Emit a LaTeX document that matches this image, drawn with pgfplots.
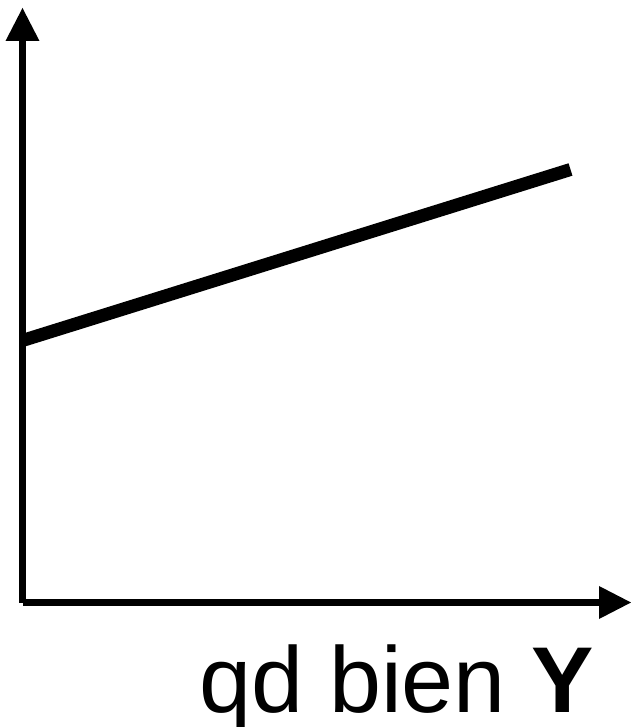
\documentclass[border=0pt]{standalone}
\usepackage{fontspec}
\setmainfont{Liberation Sans}
\usepackage{pgfplots}
\pgfplotsset{compat=1.18}
\usetikzlibrary{arrows.meta}

\begin{document}
\begin{tikzpicture}
\begin{axis}[
  x=1bp, y=1bp,
  xmin=0, xmax=608.5,
  ymin=0, ymax=594.5,
  hide axis,
  clip=false,
]
  % demand for good Y as a straight line
  \addplot[black, line width=13bp, line cap=butt, no marks]
    coordinates {(0,262) (548,433)};

  % axes drawn as thick arrows
  \draw[line width=7bp, line cap=butt,
        -{Triangle[length=33bp,width=34bp,line width=0pt]}]
    (axis cs:0,0) -- (axis cs:0,594.5);
  \draw[line width=7bp, line cap=butt,
        -{Triangle[length=32bp,width=33bp,line width=0pt]}]
    (axis cs:0,0) -- (axis cs:608.5,0);

  \node[anchor=base east, inner sep=0pt,
        font=\fontsize{93.5bp}{110bp}\selectfont]
    at (axis cs:572,-109.5) {qd bien \textbf{Y}};

  \coordinate (bl) at (axis cs:-22.5,-124.5);
  \coordinate (tr) at (axis cs:608.5,602.5);
\end{axis}
\pgfresetboundingbox
\path[use as bounding box] (bl) rectangle (tr);
\end{tikzpicture}
\end{document}
